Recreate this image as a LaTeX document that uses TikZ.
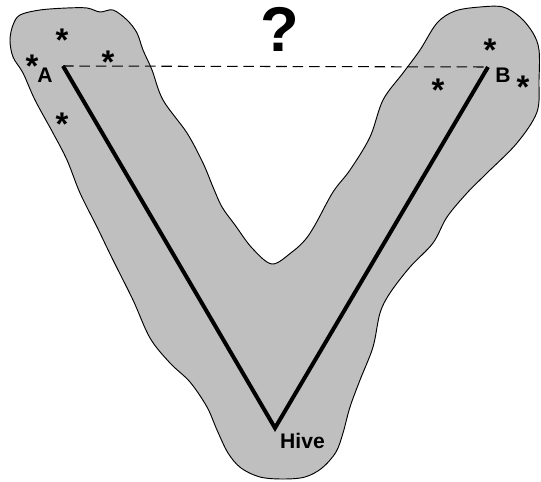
\documentclass[tikz,border=0pt]{standalone}
\usepackage{fontspec}
\setmainfont{Liberation Sans}
\usepackage{tikz}
\usetikzlibrary{positioning, calc}

\begin{document}
\begin{tikzpicture}[
    x=0.03cm, y=-0.03cm,
    area/.style={draw, line width=0.8pt, fill=black!25},
    route/.style={line width=3.4pt},
    lbl/.style={font=\bfseries\fontsize{18}{18}\selectfont, inner sep=0pt},
    star/.style={font=\bfseries\fontsize{28}{28}\selectfont, inner sep=0pt}
]
    \useasboundingbox (0,0) rectangle (541,481);

    % Foraging area
    \draw[area] plot[smooth cycle, tension=0.55] coordinates {
        (13,25) (20,15) (40,10) (67,8) (87,8) (100,12) (113,10) (127,20)
        (137,33) (143,50) (152,70) (163,100) (187,133) (203,163) (213,187)
        (222,207) (235,225) (252,248) (272,264) (292,252) (305,240) (315,225)
        (333,192) (350,170) (370,137) (383,100) (403,73) (420,50) (437,23)
        (455,11) (480,7) (503,7) (520,17) (533,33) (539,50) (539,80) (537,112)
        (517,143) (487,173) (467,193) (447,217) (433,243) (410,267) (390,293)
        (380,313) (373,347) (360,380) (350,407) (343,433) (336,452) (322,468)
        (305,477) (283,479) (260,477) (241,468) (228,453) (217,430) (207,407)
        (190,382) (170,363) (150,338) (133,300) (113,260) (97,227) (80,193)
        (67,160) (53,133) (35,100) (23,73) (13,57) (10,40)};

    % Feeding sites and hive
    \coordinate (a) at (63,66);
    \coordinate (b) at (488,67);
    \coordinate (hive) at (275,428);

    % Routes
    \draw[route] (a) -- (hive) -- (b);
    \draw[dash pattern=on 9pt off 5pt, line width=0.9pt] (a) -- (b);

    % Labels
    \node[lbl] (la) at (45,75) {A};
    \node[lbl] (lb) at (503,75) {B};
    \node[lbl, anchor=west] (lhive) at (280,441) {Hive};
    \node[font=\bfseries\fontsize{54}{54}\selectfont, inner sep=0pt] (q) at (280,29) {?};

    % Flowers
    \node[star] (s1) at (62,40) {*};
    \node[star] (s2) at (32,66) {*};
    \node[star] (s3) at (108,62) {*};
    \node[star] (s4) at (62,124) {*};
    \node[star] (s5) at (490,50) {*};
    \node[star] (s6) at (438,90) {*};
    \node[star] (s7) at (523,87) {*};
\end{tikzpicture}
\end{document}
